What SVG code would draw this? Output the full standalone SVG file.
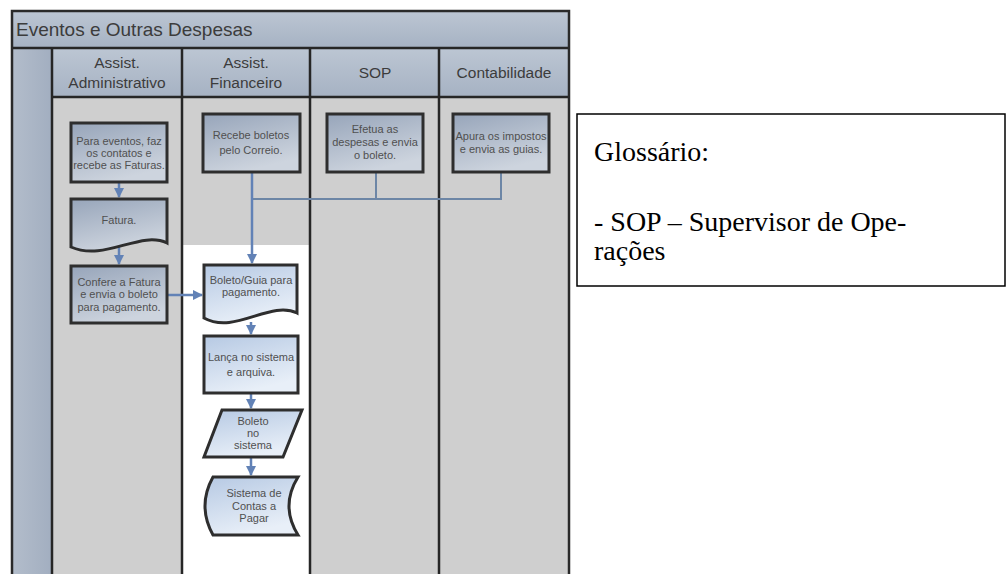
<svg xmlns="http://www.w3.org/2000/svg" width="1008" height="574" viewBox="0 0 1008 574">
<style>
.lbl{font-family:"Liberation Sans",Arial,sans-serif;fill:#3c3c3c;text-anchor:middle}
.hdr{font-size:15.5px}
.nt{font-size:11px;fill:#505050}
.nd{stroke:#2e2e2e;stroke-width:3}
.g1{fill:url(#gBox)}
.g2{fill:url(#gBoxW)}
.cn{fill:none;stroke:#6282b6;stroke-width:2.5}
.cl{fill:none;stroke:#6d86a6;stroke-width:2}
.ln{stroke:#262626;stroke-width:2.5}
.gl{font-family:"Liberation Serif","Times New Roman",serif;font-size:28px;fill:#000}
</style>
<defs>
<linearGradient id="gBox" x1="0" y1="0" x2="0.4" y2="1">
<stop offset="0" stop-color="#97a5ba"/><stop offset="1" stop-color="#cdd4de"/>
</linearGradient>
<linearGradient id="gBoxW" x1="0" y1="0" x2="0.4" y2="1">
<stop offset="0" stop-color="#b6c9e3"/><stop offset="1" stop-color="#e8eff8"/>
</linearGradient>
<linearGradient id="gHead" x1="0" y1="0" x2="0" y2="1">
<stop offset="0" stop-color="#bcc6d3"/><stop offset="1" stop-color="#a6b2c3"/>
</linearGradient>
<linearGradient id="gSide" x1="0" y1="0" x2="1" y2="0">
<stop offset="0" stop-color="#b3bdcb"/><stop offset="1" stop-color="#a2aec0"/>
</linearGradient>
<marker id="ah" viewBox="0 0 10 10" refX="9" refY="5" markerWidth="4.2" markerHeight="4.2" orient="auto" markerUnits="strokeWidth">
<path d="M0,0 L10,5 L0,10 Z" fill="#6282b6"/>
</marker>
</defs>
<rect width="1008" height="574" fill="#ffffff"/>

<g id="pool">
<rect x="12" y="11" width="557" height="570" fill="#cfcfcf"/>
<rect x="12" y="11" width="557" height="37" fill="url(#gHead)"/>
<rect x="12" y="48" width="40" height="530" fill="url(#gSide)"/>
<rect x="52" y="48" width="517" height="49" fill="url(#gHead)"/>
<rect x="183" y="245" width="126" height="335" fill="#ffffff"/>
<line class="ln" x1="12" y1="48" x2="569" y2="48"/>
<line class="ln" x1="52" y1="97" x2="569" y2="97"/>
<line class="ln" x1="52" y1="48" x2="52" y2="580"/>
<line class="ln" x1="182" y1="48" x2="182" y2="580"/>
<line class="ln" x1="310" y1="48" x2="310" y2="580"/>
<line class="ln" x1="439" y1="48" x2="439" y2="580"/>
<rect x="12" y="11" width="557" height="570" fill="none" stroke="#2a2a2a" stroke-width="2.5"/>
<text class="lbl" x="16" y="36" style="font-size:19px;text-anchor:start">Eventos e Outras Despesas</text>
<text class="lbl hdr" x="117" y="68">Assist.</text>
<text class="lbl hdr" x="117" y="88">Administrativo</text>
<text class="lbl hdr" x="246" y="68">Assist.</text>
<text class="lbl hdr" x="246" y="88">Financeiro</text>
<text class="lbl hdr" x="375" y="78">SOP</text>
<text class="lbl hdr" x="504" y="78">Contabilidade</text>
</g>

<g id="connectors">
<path class="cl" d="M376,172 V199 H252"/>
<path class="cl" d="M501,172 V199 H376"/>
<path class="cn" d="M252,172 V263" marker-end="url(#ah)"/>
<path class="cn" d="M119,182 V197" marker-end="url(#ah)"/>
<path class="cn" d="M119,244 V264" marker-end="url(#ah)"/>
<path class="cn" d="M167,295 H202" marker-end="url(#ah)"/>
<path class="cn" d="M251,322 V334" marker-end="url(#ah)"/>
<path class="cn" d="M251,393 V408" marker-end="url(#ah)"/>
<path class="cn" d="M251,457 V475" marker-end="url(#ah)"/>
</g>

<g id="n1">
<rect class="nd g1" x="71" y="123" width="96" height="59"/>
<text class="lbl nt" x="119" y="145">Para eventos, faz</text>
<text class="lbl nt" x="119" y="157">os contatos e</text>
<text class="lbl nt" x="119" y="169">recebe as Faturas.</text>
</g>
<g id="n2">
<path class="nd g1" d="M71,199 H167 V243 C140,230 105,262 71,247 Z"/>
<text class="lbl nt" x="119" y="224">Fatura.</text>
</g>
<g id="n3">
<rect class="nd g1" x="71" y="266" width="96" height="57"/>
<text class="lbl nt" x="119" y="286">Confere a Fatura</text>
<text class="lbl nt" x="119" y="298">e envia o boleto</text>
<text class="lbl nt" x="119" y="311">para pagamento.</text>
</g>
<g id="n4">
<rect class="nd g1" x="203" y="114" width="97" height="58"/>
<text class="lbl nt" x="251" y="139">Recebe boletos</text>
<text class="lbl nt" x="251" y="154">pelo Correio.</text>
</g>
<g id="n5">
<rect class="nd g1" x="327" y="114" width="96" height="58"/>
<text class="lbl nt" x="375" y="133">Efetua as</text>
<text class="lbl nt" x="375" y="146">despesas e envia</text>
<text class="lbl nt" x="375" y="159">o boleto.</text>
</g>
<g id="n6">
<rect class="nd g1" x="453" y="114" width="96" height="58"/>
<text class="lbl nt" x="501" y="140">Apura os impostos</text>
<text class="lbl nt" x="501" y="153">e envia as guias.</text>
</g>
<g id="n7">
<path class="nd g2" d="M204,265 H297 V313 C270,300 235,335 204,318 Z"/>
<text class="lbl nt" x="251" y="284">Boleto/Guia para</text>
<text class="lbl nt" x="251" y="296">pagamento.</text>
</g>
<g id="n8">
<rect class="nd g2" x="204" y="336" width="94" height="57"/>
<text class="lbl nt" x="251" y="361">Lança no sistema</text>
<text class="lbl nt" x="251" y="376">e arquiva.</text>
</g>
<g id="n9">
<path class="nd g2" d="M222,410 H302 L283,457 H204 Z"/>
<text class="lbl nt" x="253" y="425">Boleto</text>
<text class="lbl nt" x="253" y="437">no</text>
<text class="lbl nt" x="253" y="449">sistema</text>
</g>
<g id="n10">
<path class="nd g2" d="M213,477 H298 Q280,506 298,535 H213 Q197,506 213,477 Z"/>
<text class="lbl nt" x="254" y="497">Sistema de</text>
<text class="lbl nt" x="254" y="510">Contas a</text>
<text class="lbl nt" x="254" y="522">Pagar</text>
</g>

<g id="glossario">
<rect x="577" y="114" width="428" height="172" fill="#ffffff" stroke="#000" stroke-width="1.5"/>
<text class="gl" x="594" y="161">Glossário:</text>
<text class="gl" x="594" y="231">- SOP – Supervisor de Ope-</text>
<text class="gl" x="594" y="260">rações</text>
</g>
</svg>
